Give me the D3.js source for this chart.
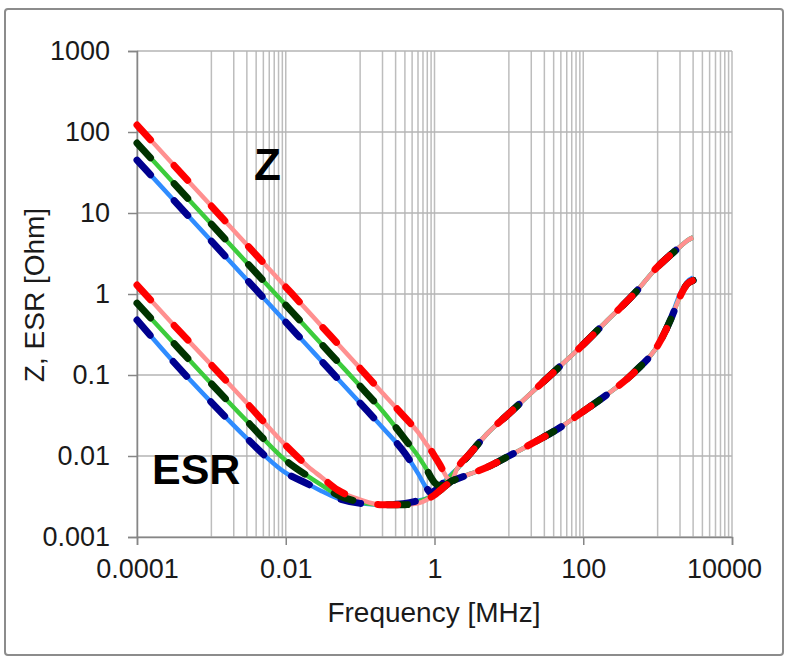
<!DOCTYPE html>
<html>

<head>
    <meta charset="utf-8">
    <title>Z and ESR vs Frequency</title>
    <style>
        body {
            margin: 0;
            background: #fff;
        }

        text {
            font-family: "Liberation Sans", Arial, sans-serif;
        }
    </style>
    <script src="https://cdn.jsdelivr.net/npm/d3@7"></script>
</head>

<body>
    <script>
        // frequency points [MHz]
        var freq = [0.0001, 0.0003, 0.001, 0.003, 0.01, 0.02, 0.03, 0.05, 0.1, 0.2, 0.4, 0.6, 0.8, 0.9, 1.0, 1.2, 1.5, 1.7,
            2, 3, 5, 10, 20, 50, 100, 200, 500, 1000, 1500, 2000, 2500, 3000];

        // impedance Z [Ohm]
        var zRed = [122, 40.5, 12.2, 4.05, 1.22, 0.61, 0.405, 0.243, 0.121, 0.060, 0.0300, 0.0197, 0.0135, 0.0117, 0.0100, 0.0076, 0.0053, 0.0050,
            0.0069, 0.0107, 0.0185, 0.0333, 0.060, 0.131, 0.238, 0.45, 1.04, 2.17, 3.06, 3.84, 4.57, 5.0];
        var zGreen = [73, 24.3, 7.3, 2.43, 0.73, 0.365, 0.243, 0.146, 0.073, 0.036, 0.0162, 0.0100, 0.0066, 0.0054, 0.0047, 0.0043, 0.0051, 0.0058,
            0.0069, 0.0107, 0.0185, 0.0333, 0.060, 0.131, 0.238, 0.45, 1.04, 2.17, 3.06, 3.84, 4.57, 5.0];
        var zBlue = [45, 15, 4.5, 1.5, 0.45, 0.225, 0.150, 0.090, 0.045, 0.0225, 0.0108, 0.0061, 0.0039, 0.0035, 0.0037, 0.0043, 0.0053, 0.0060,
            0.0069, 0.0107, 0.0185, 0.0333, 0.060, 0.131, 0.238, 0.45, 1.04, 2.17, 3.06, 3.84, 4.57, 5.0];

        // equivalent series resistance [Ohm]
        var esrRed = [1.29, 0.43, 0.133, 0.045, 0.0135, 0.0074, 0.0055, 0.0038, 0.0029, 0.0025, 0.0025, 0.0026, 0.0029, 0.0031, 0.0033, 0.0038, 0.0045, 0.0049,
            0.0052, 0.0060, 0.0072, 0.0100, 0.0141, 0.0228, 0.0356, 0.0557, 0.111, 0.23, 0.485, 0.93, 1.33, 1.47];
        var esrGreen = [0.77, 0.257, 0.078, 0.027, 0.0088, 0.0056, 0.0044, 0.0033, 0.0027, 0.0025, 0.0025, 0.0027, 0.0030, 0.0031, 0.0033, 0.0038, 0.0045, 0.0049,
            0.0052, 0.0060, 0.0072, 0.0100, 0.0141, 0.0228, 0.0356, 0.0557, 0.111, 0.23, 0.485, 0.93, 1.33, 1.47];
        var esrBlue = [0.477, 0.15, 0.046, 0.0165, 0.0062, 0.0045, 0.0037, 0.0030, 0.0026, 0.0025, 0.0026, 0.0028, 0.0030, 0.0031, 0.0033, 0.0038, 0.0045, 0.0049,
            0.0052, 0.0060, 0.0072, 0.0100, 0.0141, 0.0228, 0.0356, 0.0557, 0.111, 0.23, 0.5, 1.0, 1.42, 1.6];

        // tick labels
        var xTicks = [0.0001, 0.01, 1, 100, 10000];
        var xTickLabels = ["0.0001", "0.01", "1", "100", "10000"];
        var yTicks = [0.001, 0.01, 0.1, 1, 10, 100, 1000];
        var yTickLabels = ["0.001", "0.01", "0.1", "1", "10", "100", "1000"];

        var margin = { top: 51, right: 56, bottom: 127, left: 137 },
            width = 788 - margin.left - margin.right,
            height = 664 - margin.top - margin.bottom;

        var svg = d3.select("body").append("svg")
            .attr("width", 788)
            .attr("height", 664);

        // chart frame
        svg.append("rect")
            .attr("x", 5).attr("y", 9)
            .attr("width", 778).attr("height", 646)
            .attr("rx", 3)
            .attr("fill", "#fff")
            .attr("stroke", "#8c8c8c")
            .attr("stroke-width", 2);

        var g = svg.append("g")
            .attr("transform", "translate(" + margin.left + "," + margin.top + ")");

        var x = d3.scaleLog().domain([0.0001, 10000]).range([0, width]);
        var y = d3.scaleLog().domain([0.001, 1000]).range([height, 0]);

        // minor vertical grid: 1..9 times the decade above each major
        var xGrid = [];
        xTicks.slice(0, -1).forEach(function(m) {
            for (var k = 1; k <= 9; k++) xGrid.push(m * 10 * k);
        });
        xGrid = xGrid.concat(xTicks);

        g.append("g").selectAll("line")
            .data(xGrid)
            .enter().append("line")
            .attr("x1", function(d) { return x(d); })
            .attr("x2", function(d) { return x(d); })
            .attr("y1", 0).attr("y2", height)
            .attr("stroke", "#bdbdbd")
            .attr("stroke-width", 1.5);

        g.append("g").selectAll("line")
            .data(yTicks)
            .enter().append("line")
            .attr("x1", 0).attr("x2", width)
            .attr("y1", function(d) { return y(d); })
            .attr("y2", function(d) { return y(d); })
            .attr("stroke", "#b4b4b4")
            .attr("stroke-width", 1.5);

        // axes
        var xAxis = g.append("g")
            .attr("transform", "translate(0," + height + ")")
            .call(d3.axisBottom(x).tickValues(xTicks).tickSize(8).tickPadding(14)
                .tickFormat(function(d, i) { return xTickLabels[i]; }));
        var yAxis = g.append("g")
            .call(d3.axisLeft(y).tickValues(yTicks).tickSize(9).tickPadding(18)
                .tickFormat(function(d, i) { return yTickLabels[i]; }));

        [xAxis, yAxis].forEach(function(a) {
            a.select(".domain").attr("stroke", "#868686").attr("stroke-width", 1.5);
            a.selectAll(".tick line").attr("stroke", "#868686").attr("stroke-width", 1.5);
            a.selectAll("text")
                .attr("fill", "#1a1a1a")
                .style("font-size", "27px")
                .style("font-family", "'Liberation Sans', Arial, sans-serif");
        });
        // last x label sits a little inside the frame
        xAxis.selectAll(".tick text").filter(function(d) { return d === 10000; }).attr("dx", -8);

        // curves
        var line = d3.line()
            .x(function(d) { return x(d[0]); })
            .y(function(d) { return y(d[1]); })
            .curve(d3.curveMonotoneX);

        function pairs(vals) {
            return freq.map(function(f, i) { return [f, vals[i]]; });
        }

        var solids = [
            { vals: zBlue, color: "#2f8cff" },
            { vals: esrBlue, color: "#2f8cff" },
            { vals: zGreen, color: "#3ccc3c" },
            { vals: esrGreen, color: "#3ccc3c" },
            { vals: zRed, color: "#ff9090" },
            { vals: esrRed, color: "#ff9090" }
        ];
        var dashed = [
            { vals: zBlue, color: "#00008f" },
            { vals: esrRed, color: "#00008f" },
            { vals: zGreen, color: "#003300" },
            { vals: esrGreen, color: "#003300" },
            { vals: zRed, color: "#ff0000" },
            { vals: esrRed, color: "#ff0000" }
        ];
        // low-frequency part of the blue ESR dashed follows its own values
        dashed[1].vals = esrBlue.slice(0, 28).concat(esrRed.slice(28));

        solids.forEach(function(s) {
            g.append("path")
                .attr("d", line(pairs(s.vals)))
                .attr("fill", "none")
                .attr("stroke", s.color)
                .attr("stroke-width", 4.5)
                .attr("stroke-linejoin", "round");
        });
        dashed.forEach(function(s) {
            g.append("path")
                .attr("d", line(pairs(s.vals)))
                .attr("fill", "none")
                .attr("stroke", s.color)
                .attr("stroke-width", 7)
                .attr("stroke-linecap", "round")
                .attr("stroke-dasharray", "20 35");
        });

        // labels on the plot
        svg.append("text")
            .attr("x", 254).attr("y", 180)
            .style("font-size", "44px").style("font-weight", "bold")
            .text("Z");
        svg.append("text")
            .attr("x", 152).attr("y", 484)
            .style("font-size", "43px").style("font-weight", "bold")
            .text("ESR");

        // axis titles
        svg.append("text")
            .attr("x", 434).attr("y", 622)
            .attr("text-anchor", "middle")
            .style("font-size", "28px")
            .attr("fill", "#1a1a1a")
            .text("Frequency [MHz]");
        svg.append("text")
            .attr("transform", "translate(44,295) rotate(-90)")
            .attr("text-anchor", "middle")
            .style("font-size", "28px")
            .attr("fill", "#1a1a1a")
            .text("Z, ESR [Ohm]");
    </script>
</body>

</html>
